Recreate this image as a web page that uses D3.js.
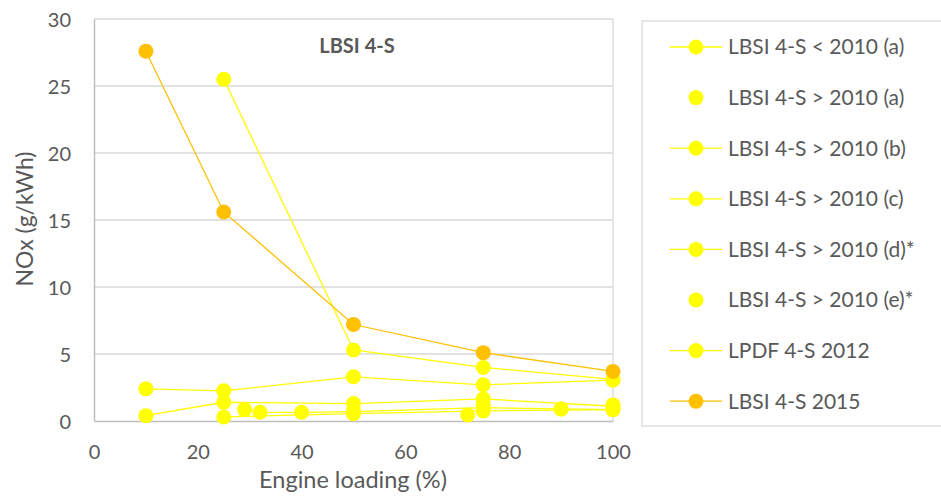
<!doctype html>
<html>
<head>
<meta charset="utf-8">
<title>LBSI 4-S NOx</title>
<script src="https://cdn.jsdelivr.net/npm/d3@7"></script>
<style>
  body { margin: 0; background: #fff; }
  text { font-family: Lato, "Open Sans", sans-serif; fill: #595959; }
</style>
</head>
<body>
<svg width="941" height="498"></svg>
<script>
// series data: [engine loading %, NOx g/kWh]
let lbsiPre2010a = [[25, 25.5], [50, 5.3], [75, 4.0], [100, 3.1]];
let lbsiPost2010a = [[72, 0.45], [100, 1.2]];
let lbsiPost2010b = [[10, 2.4], [25, 2.25], [50, 3.3], [75, 2.7], [100, 3.05]];
let lbsiPost2010c = [[10, 0.4], [25, 1.4], [50, 1.3], [75, 1.65], [100, 1.1]];
let lbsiPost2010d = [[25, 0.3], [50, 0.55], [75, 0.75], [100, 0.85]];
let lbsiPost2010e = [[75, 1.25], [90, 0.9]];
let lpdf2012 = [[29, 0.85], [32, 0.65], [40, 0.65], [50, 0.7], [75, 1.0], [90, 0.9], [100, 0.85]];
let lbsi2015 = [[10, 27.6], [25, 15.6], [50, 7.2], [75, 5.1], [100, 3.7]];

let seriesNames = ["LBSI 4-S < 2010 (a)", "LBSI 4-S > 2010 (a)", "LBSI 4-S > 2010 (b)",
    "LBSI 4-S > 2010 (c)", "LBSI 4-S > 2010 (d)*", "LBSI 4-S > 2010 (e)*",
    "LPDF 4-S 2012", "LBSI 4-S 2015"];
let seriesData = [lbsiPre2010a, lbsiPost2010a, lbsiPost2010b, lbsiPost2010c,
    lbsiPost2010d, lbsiPost2010e, lpdf2012, lbsi2015];
let hasLine = [true, false, true, true, true, false, true, true];

let xTicks = [0, 20, 40, 60, 80, 100];
let yTicks = [0, 5, 10, 15, 20, 25, 30];

let yellow = "#ffff00", orange = "#ffc000";

let svg = d3.select("svg");
let x = d3.scaleLinear().domain([0, 100]).range([94, 613]);
let y = d3.scaleLinear().domain([0, 30]).range([421, 19]);

// gridlines
svg.append("g").selectAll("line")
    .data(yTicks.slice(1))
    .enter().append("line")
    .attr("x1", x(0)).attr("x2", x(100))
    .attr("y1", d => y(d)).attr("y2", d => y(d))
    .attr("stroke", "#d9d9d9").attr("stroke-width", 1.3);

// right border
svg.append("line")
    .attr("x1", x(100)).attr("x2", x(100)).attr("y1", y(30)).attr("y2", y(0))
    .attr("stroke", "#d9d9d9").attr("stroke-width", 1.3);

// axes
let xAxis = svg.append("g")
    .attr("transform", "translate(0," + y(0) + ")")
    .call(d3.axisBottom(x).tickValues(xTicks).tickSize(0).tickPadding(23));
let yAxis = svg.append("g")
    .attr("transform", "translate(" + x(0) + ",0)")
    .call(d3.axisLeft(y).tickValues(yTicks).tickSize(0).tickPadding(23));
[xAxis, yAxis].forEach(a => {
    a.select(".domain").attr("stroke", "#bfbfbf").attr("stroke-width", 1.5);
    a.selectAll("text").style("font-size", "20px").attr("fill", "#595959");
});
yAxis.selectAll("text").attr("dy", "0.35em");
xAxis.selectAll("text").attr("dy", "0.75em");

// axis titles
svg.append("text")
    .attr("x", 353).attr("y", 488)
    .attr("text-anchor", "middle")
    .style("font-size", "23.5px")
    .text("Engine loading (%)");
svg.append("text")
    .attr("transform", "translate(33,219) rotate(-90)")
    .attr("text-anchor", "middle")
    .style("font-size", "23px")
    .text("NOx (g/kWh)");

// chart title
svg.append("text")
    .attr("x", 357).attr("y", 53)
    .attr("text-anchor", "middle")
    .style("font-size", "20px").style("font-weight", "bold")
    .text("LBSI 4-S");

let line = d3.line().x(d => x(d[0])).y(d => y(d[1]));

seriesData.forEach((data, i) => {
    let col = i === 7 ? orange : yellow;
    let g = svg.append("g");
    if (hasLine[i]) {
        g.append("path")
            .datum(data)
            .attr("d", line)
            .attr("fill", "none")
            .attr("stroke", col)
            .attr("stroke-width", 1.3);
    }
    g.selectAll("circle")
        .data(data)
        .enter().append("circle")
        .attr("cx", d => x(d[0]))
        .attr("cy", d => y(d[1]))
        .attr("r", 7.5)
        .attr("fill", col);
});

// legend
let legend = svg.append("g");
legend.append("rect")
    .attr("x", 642).attr("y", 21).attr("width", 310).attr("height", 405)
    .attr("fill", "#fff").attr("stroke", "#d9d9d9").attr("stroke-width", 1.3);

let legendItems = legend.selectAll("g.item")
    .data(seriesNames)
    .enter().append("g")
    .attr("class", "item")
    .attr("transform", (d, i) => "translate(0," + (47 + i * 50.6) + ")");

legendItems.filter((d, i) => hasLine[i])
    .append("line")
    .attr("x1", 670).attr("x2", 722)
    .attr("stroke", d => d === "LBSI 4-S 2015" ? orange : yellow)
    .attr("stroke-width", 1.3);
legendItems.append("circle")
    .attr("cx", 696).attr("r", 7.5)
    .attr("fill", d => d === "LBSI 4-S 2015" ? orange : yellow);
legendItems.append("text")
    .attr("x", 728).attr("dy", "0.35em")
    .style("font-size", "21px")
    .text(d => d);
</script>
</body>
</html>
